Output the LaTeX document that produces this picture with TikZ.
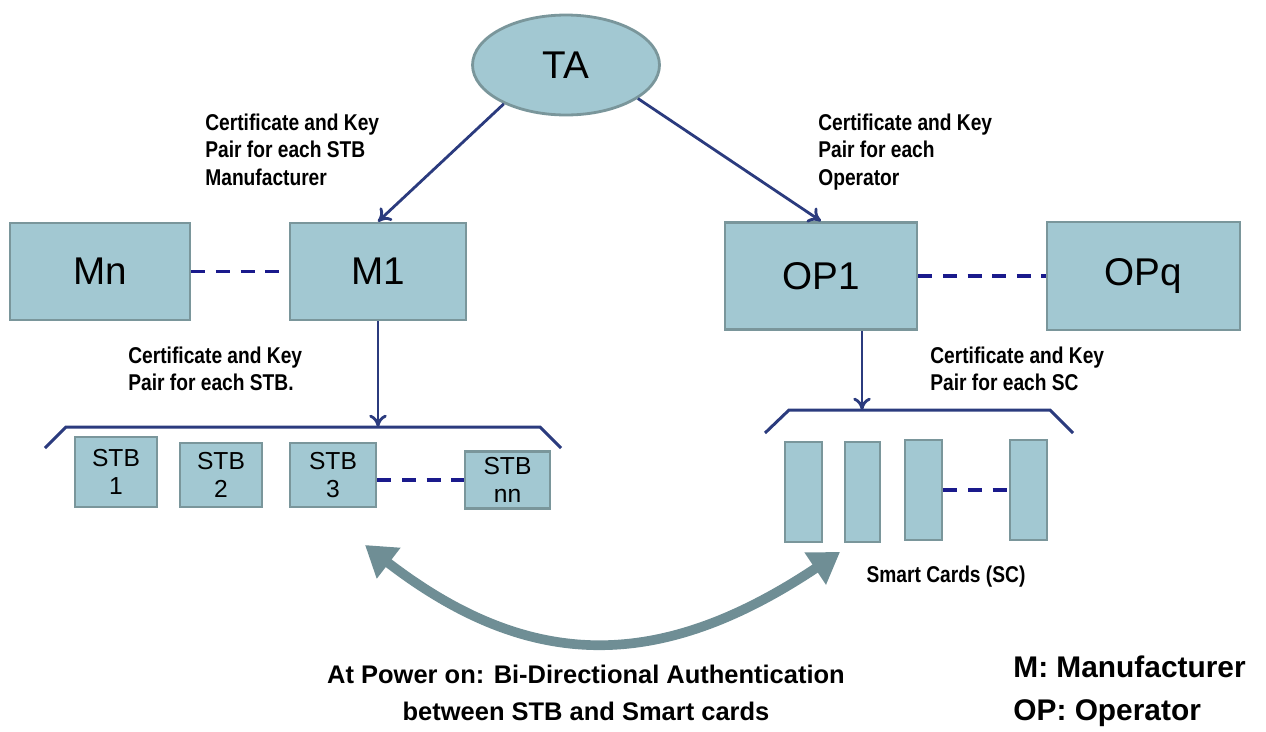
\documentclass[tikz,border=0pt]{standalone}
\usepackage{fontspec}
\setmainfont{Liberation Sans}
\newfontfamily\narrowfont[FakeStretch=0.84]{Liberation Sans}
\usetikzlibrary{arrows.meta}
\usetikzlibrary{shapes}
\definecolor{boxfill}{HTML}{A2C8D2}
\definecolor{boxdraw}{HTML}{7A969B}
\definecolor{navy}{HTML}{2B3B7E}
\definecolor{dashblue}{HTML}{1A1A8C}
\definecolor{bigarrow}{HTML}{6F8E95}

\begin{document}
\begin{tikzpicture}[x=0.02cm,y=-0.02cm]
%stylesdesnoeuds
\tikzstyle{boite}=[rectangle,draw=boxdraw,line width=1.6pt,fill=boxfill,font=\fontsize{22}{26}\selectfont]
\tikzstyle{stb}=[boite,align=center,font=\fontsize{14}{16}\selectfont]
\tikzstyle{carte}=[boite,minimum height=2cm]
\tikzstyle{etiq}=[inner sep=0pt,align=left,font=\narrowfont\bfseries\fontsize{13}{15.4}\selectfont]
%stylesdesfleches
\tikzstyle{suite}=[-{To[length=7pt,width=10pt]},draw=navy,line width=1.6pt]
\tikzstyle{pointille}=[draw=dashblue,line width=2pt,dash pattern=on 8pt off 6pt]
\tikzstyle{accolade}=[draw=navy,line width=1.7pt]
\useasboundingbox (0,0) rectangle (1266,731);
%placementdesnoeuds
\node[ellipse,draw=boxdraw,line width=1.6pt,fill=boxfill,minimum width=3.74cm,minimum height=2cm,font=\fontsize{22}{26}\selectfont] (TA) at (566,65) {TA};
\node[boite,minimum width=3.6cm,minimum height=1.94cm] (Mn) at (100,271.5) {Mn};
\node[boite,minimum width=3.52cm,minimum height=1.94cm] (M1) at (378,271.5) {M1};
\node[boite,minimum width=3.84cm,minimum height=2.14cm] (OP1) at (821,276) {OP1};
\node[boite,minimum width=3.86cm,minimum height=2.16cm] (OPq) at (1143.5,276) {OPq};
\node[stb,minimum width=1.64cm,minimum height=1.4cm] (STB1) at (116,472) {STB\\1};
\node[stb,minimum width=1.64cm,minimum height=1.28cm] (STB2) at (221,475) {STB\\2};
\node[stb,minimum width=1.72cm,minimum height=1.28cm] (STB3) at (333,475) {STB\\3};
\node[stb,minimum width=1.7cm,minimum height=1.12cm] (STBnn) at (507.5,480) {STB\\nn};
\node[carte,minimum width=0.74cm] (SC1) at (803.5,492) {};
\node[carte,minimum width=0.7cm] (SC2) at (862.5,492) {};
\node[carte,minimum width=0.74cm] (SC3) at (923.5,490) {};
\node[carte,minimum width=0.74cm] (SC4) at (1028.5,490) {};
%textes
\node[etiq,anchor=north west] (lblM) at (205,114) {Certificate and Key\\Pair for each STB\\Manufacturer};
\node[etiq,anchor=north west] (lblOP) at (818,114) {Certificate and Key\\Pair for each\\Operator};
\node[etiq,anchor=north west] (lblSTB) at (128,347) {Certificate and Key\\Pair for each STB.};
\node[etiq,anchor=north west] (lblSC) at (930,347) {Certificate and Key\\Pair for each SC};
\node[etiq] (lblcards) at (946,577) {Smart Cards (SC)};
\node[align=center,inner sep=0pt,font=\bfseries\fontsize{14.5}{21}\selectfont] (auth) at (586,693) {At Power on: Bi-Directional Authentication\\between STB and Smart cards};
\node[align=left,inner sep=0pt,anchor=north west,font=\bfseries\fontsize{17}{25}\selectfont] (legende) at (1013,655) {M: Manufacturer\\OP: Operator};
%accolades
\coordinate (bl1) at (45,448);
\coordinate (bl2) at (66,427);
\coordinate (bl3) at (540,427);
\coordinate (bl4) at (561,448);
\coordinate (br1) at (765,433);
\coordinate (br2) at (789,410);
\coordinate (br3) at (1050,410);
\coordinate (br4) at (1073,433);
\draw[accolade] (bl1) -- (bl2) -- (bl3) -- (bl4);
\draw[accolade] (br1) -- (br2) -- (br3) -- (br4);
%placementdesfleches
\draw[suite] (TA.212) -- (M1.north);
\draw[suite] (TA.335) -- (OP1.north);
\draw[suite] (M1.south) -- (M1.south |- bl2);
\draw[suite] (OP1.south -| 862,0) -- (862,0 |- br2);
\draw[pointille] (Mn) -- (M1);
\draw[pointille] (OP1) -- (OPq);
\draw[pointille] (STBnn.west -| STB3.east) -- (STBnn.west);
\draw[pointille] (SC3) -- (SC4);
%doublefleche
\coordinate (gauche) at (365,545);
\coordinate (droite) at (840,552);
\draw[draw=bigarrow,line width=5.5pt,{Triangle[length=17pt,width=21pt]}-{Triangle[length=17pt,width=21pt]}] (gauche) .. controls (530,672) and (660,672) .. (droite);
\end{tikzpicture}
\end{document}
